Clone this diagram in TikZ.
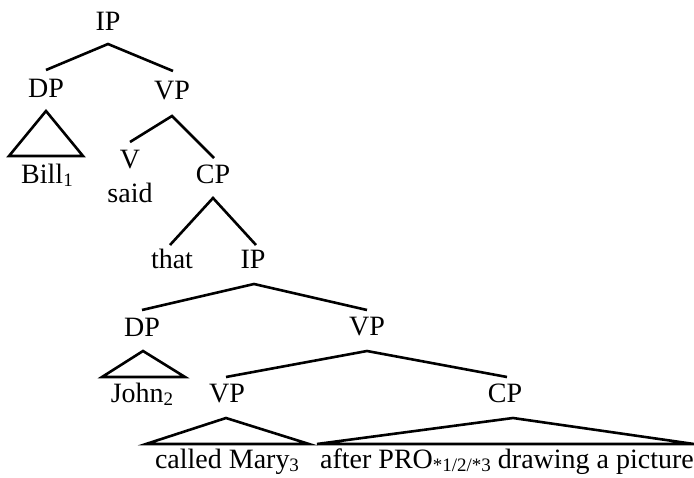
\documentclass[tikz,border=0pt]{standalone}
\usepackage{fontspec}
\setmainfont{Liberation Serif}
\usetikzlibrary{calc}
\newcommand\subsc[1]{\raisebox{-0.14em}{\fontsize{19}{19}\selectfont #1}}
\begin{document}
\begin{tikzpicture}[x=1pt,y=-1pt,
  lbl/.style={anchor=base,inner sep=0pt,font=\fontsize{28}{30}\selectfont},
  br/.style={line width=2.6pt}]
\useasboundingbox (0,0) rectangle (694,477);
\node[lbl] (ip1) at (108,30) {IP};
\node[lbl] (dp1) at (46,97) {DP};
\node[lbl] (vp1) at (172,99) {VP};
\node[lbl] (bill) at (47,183) {Bill\subsc{1}};
\node[lbl] (v) at (130,168) {V};
\node[lbl] (said) at (130,202) {said};
\node[lbl] (cp1) at (213,183) {CP};
\node[lbl] (that) at (172,268) {that};
\node[lbl] (ip2) at (253,268) {IP};
\node[lbl] (dp2) at (142,336) {DP};
\node[lbl] (vp2) at (367,335) {VP};
\node[lbl] (john) at (142,402) {John\subsc{2}};
\node[lbl] (vp3) at (227,402) {VP};
\node[lbl] (cp2) at (505,402) {CP};
\node[lbl] (called) at (227,468) {called Mary\subsc{3}};
\node[lbl] (after) at (507,468) {after PRO\subsc{*1/2/*3} drawing a picture};
% IP -> DP VP
\draw[br] ($(dp1.base)+(0,-27)$) -- ($(ip1.base)+(0,14)$) -- ($(vp1.base)+(1,-28)$);
% DP triangle
\draw[br] ($(dp1.base)+(0,14)$) -- ($(bill.base)+(-38,-27)$) -- ($(bill.base)+(36,-27)$) -- cycle;
% VP -> V CP
\draw[br] ($(v.base)+(0,-26)$) -- ($(vp1.base)+(0,17)$) -- ($(cp1.base)+(1,-25)$);
% CP -> that IP
\draw[br] ($(that.base)+(-2,-23)$) -- ($(cp1.base)+(0,15)$) -- ($(ip2.base)+(3,-23)$);
% IP -> DP VP
\draw[br] ($(dp2.base)+(0,-26)$) -- ($(ip2.base)+(1,16)$) -- ($(vp2.base)+(0,-25)$);
% DP triangle
\draw[br] ($(dp2.base)+(1,15)$) -- ($(john.base)+(-40,-25)$) -- ($(john.base)+(43,-25)$) -- cycle;
% VP -> VP CP
\draw[br] ($(vp3.base)+(-1,-25)$) -- ($(vp2.base)+(0,16)$) -- ($(cp2.base)+(2,-25)$);
% VP triangle
\draw[br] ($(vp3.base)+(-1,16)$) -- ($(called.base)+(-81,-24)$) -- ($(called.base)+(82,-24)$) -- cycle;
% CP triangle
\draw[br] ($(cp2.base)+(8,16)$) -- ($(after.base)+(-190,-24)$) -- ($(after.base)+(187,-24)$) -- cycle;
\end{tikzpicture}
\end{document}
